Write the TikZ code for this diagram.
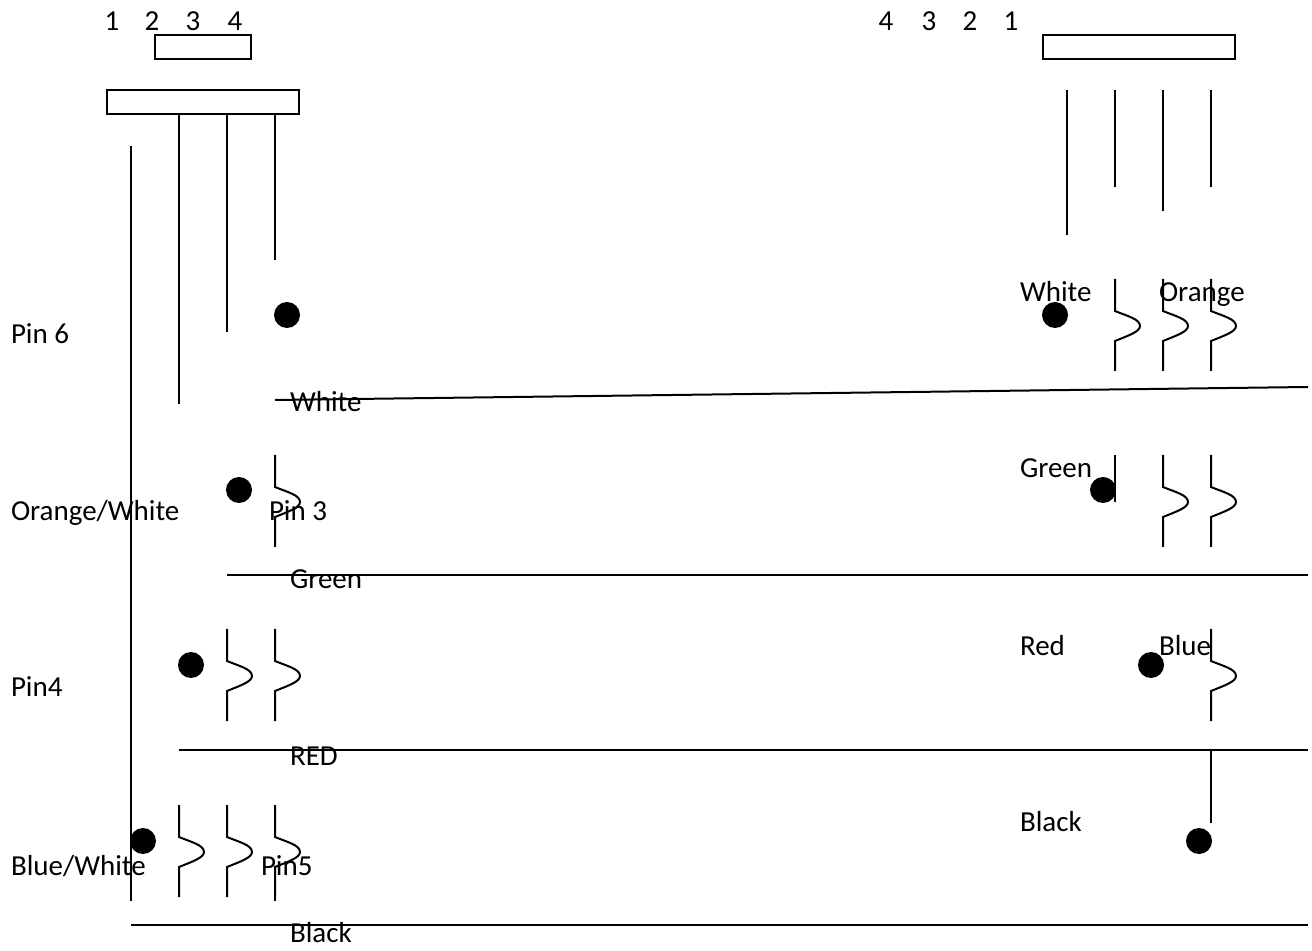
\documentclass[tikz,border=0pt]{standalone}
\usepackage{fontspec}
\setmainfont{Carlito}
\begin{document}
\begin{tikzpicture}[x=0.5pt,y=-0.5pt,line width=1pt,
label/.style ={anchor=base west, inner sep=0pt, font=\fontsize{14.5}{17}\selectfont},
number/.style ={anchor=base, inner sep=0pt, font=\fontsize{14.5}{17}\selectfont},
plug/.style ={rectangle, draw, minimum width=96pt, minimum height=12pt, inner sep=0pt},
socket/.style ={rectangle, draw, minimum width=48pt, minimum height=12pt, inner sep=0pt},
dot/.style ={circle, fill, minimum size=13pt, inner sep=0pt},
jog/.pic ={\draw (0,0) -- (0,32) .. controls (12,37) and (25,40) .. (25,47) .. controls (25,53) and (12,57) .. (0,62) -- (0,92);}
]
\useasboundingbox (0,0) rectangle (1312,951);
% left side texts
\node (n1) at (112,30.5) [number] {1};
\node (n2) at (152,30.5) [number] {2};
\node (n3) at (193,30.5) [number] {3};
\node (n4) at (235,30.5) [number] {4};
\node (pin6) at (10,344) [label] {Pin 6};
\node (orwh) at (10,521) [label] {Orange/White};
\node (pin3) at (268,521) [label] {Pin 3};
\node (pin4) at (10,697) [label] {Pin4};
\node (blwh) at (10,875) [label] {Blue/White};
\node (pin5) at (260,875) [label] {Pin5};
\node (lwhite) at (289,412) [label] {White};
\node (lgreen) at (289,589) [label] {Green};
\node (lred) at (289,765) [label] {RED};
\node (lblack) at (289,942) [label] {Black};
% right side texts
\node (m4) at (886,30.5) [number] {4};
\node (m3) at (929,30.5) [number] {3};
\node (m2) at (970,30.5) [number] {2};
\node (m1) at (1011,30.5) [number] {1};
\node (rwhite) at (1019,302) [label] {White};
\node (rorange) at (1158,302) [label] {Orange};
\node (rgreen) at (1019,478) [label] {Green};
\node (rred) at (1019,655) [label] {Red};
\node (rblue) at (1158,655) [label] {Blue};
\node (rblack) at (1019,831) [label] {Black};
% plugs
\node (ltop) at (203,47) [socket] {};
\node (lplug) at (203,102) [plug] {};
\node (rplug) at (1139,47) [plug] {};
% dots
\node (d1) at (287,315) [dot] {};
\node (d2) at (239,490) [dot] {};
\node (d3) at (191,665) [dot] {};
\node (d4) at (143,841) [dot] {};
\node (e1) at (1055,315) [dot] {};
\node (e2) at (1103,490) [dot] {};
\node (e3) at (1151,665) [dot] {};
\node (e4) at (1199,841) [dot] {};
% straight wires
\foreach \name/\x/\ya/\yb in {a/131/146/901, b/179/114/404, c/227/114/332, d/275/114/260,
  e/1067/90/235, f/1115/90/187, g/1163/90/211, h/1211/90/187,
  i/1115/455/502, j/1211/750/823, k/275/897/901} {
  \coordinate (\name top) at (\x,\ya);
  \coordinate (\name end) at (\x,\yb);
  \draw (\name top) -- (\name end);
}
% long wires
\foreach \name/\x/\ya/\yb in {p/275/400/387, q/227/575/575, r/179/750/750, s/131/925/925} {
  \coordinate (\name left) at (\x,\ya);
  \coordinate (\name right) at (1308,\yb);
  \draw (\name left) -- (\name right);
}
% jogs
\foreach \x/\y in {275/455, 227/629, 275/629, 179/805, 227/805, 275/805,
  1115/279, 1163/279, 1211/279, 1163/455, 1211/455, 1211/629}
  \pic at (\x,\y) {jog};
\end{tikzpicture}
\end{document}
